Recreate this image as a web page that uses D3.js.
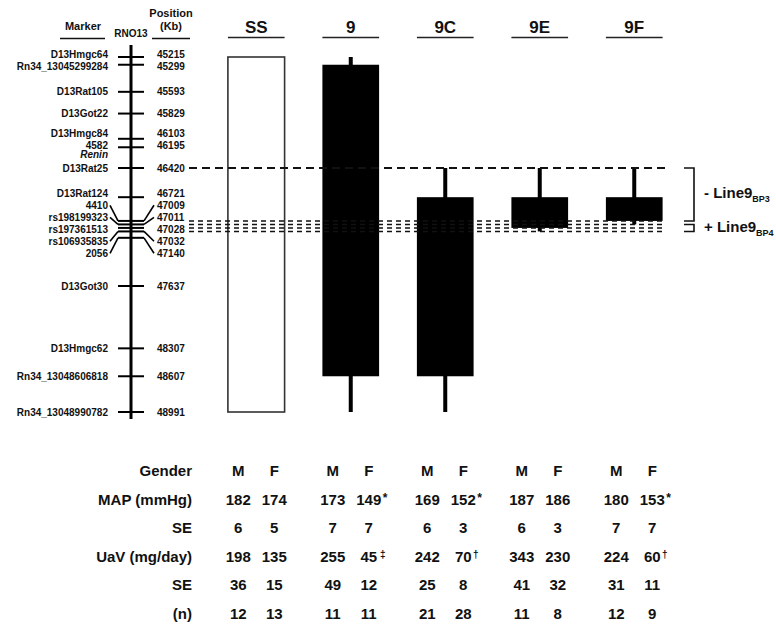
<!DOCTYPE html>
<html><head><meta charset="utf-8">
<script src="https://cdn.jsdelivr.net/npm/d3@7"></script>
<style>
body{margin:0;background:#fff}
svg{display:block}
text{font-family:"Liberation Sans",Arial,Helvetica,sans-serif;font-weight:bold;fill:#111}
</style>
</head><body>
<svg id="chart" width="776" height="625"></svg>
<script>
// ---------------- data ----------------
const markerNames = ["D13Hmgc64","Rn34_13045299284","D13Rat105","D13Got22","D13Hmgc84","4582","D13Rat25","D13Rat124","4410","rs198199323","rs197361513","rs106935835","2056","D13Got30","D13Hmgc62","Rn34_13048606818","Rn34_13048990782"];
const markerKb = [45215,45299,45593,45829,46103,46195,46420,46721,47009,47011,47028,47032,47140,47637,48307,48607,48991];
const geneNames = ["","","","","","Renin","","","","","","","","","","",""];

const strains = ["SS","9","9C","9E","9F"];
const whiskerTopKb = [null,45215,46420,46420,46420];
const barTopKb = [45215,45299,46721,46721,46721];
const barBottomKb = [48991,48607,48607,47028,47009];
const whiskerBottomKb = [null,48991,48991,47032,47011];
const barFilled = [false,true,true,true,true];

const boundaryKb = [46420,47009,47011,47028,47032];
const regionLabels = [{main:"- Line9", sub:"BP3", from:46420, to:47009},
                      {main:"+ Line9", sub:"BP4", from:47011, to:47032}];

const genders = ["M","F"];
const rowLabels = ["Gender","MAP (mmHg)","SE","UaV (mg/day)","SE","(n)"];
const mapValues = [[182,174],[173,149],[169,152],[187,186],[180,153]];
const mapMarks  = [["",""],["","*"],["","*"],["",""],["","*"]];
const mapSE     = [[6,5],[7,7],[6,3],[6,3],[7,7]];
const uavValues = [[198,135],[255,45],[242,70],[343,230],[224,60]];
const uavMarks  = [["",""],["","\u2021"],["","\u2020"],["",""],["","\u2020"]];
const uavSE     = [[36,15],[49,12],[25,8],[41,32],[31,11]];
const nValues   = [[12,13],[11,11],[21,28],[11,8],[12,9]];

// ---------------- layout ----------------
const svg = d3.select("#chart");
svg.append("rect").attr("width",776).attr("height",625).attr("fill","#fff");

const y = d3.scaleLinear().domain([45215,46420,47637,48991]).range([57,168,286,412]);
const x = d3.scaleBand().domain(strains).range([209,681.5]).paddingInner(0.4).paddingOuter(0.2);

// 1-D spreading with per-item minimum gap to the previous item (pool adjacent violators)
function spread(vals, gaps){
  const stack = [];
  const pos = g => { const n=g.items.length, mo=d3.mean(g.offs); return g.offs.map(o=>g.sum/n - mo + o); };
  vals.forEach((v,i)=>{
    stack.push({items:[i], offs:[0], sum:v});
    while(stack.length>1){
      const b = stack[stack.length-1], a = stack[stack.length-2];
      const pa = pos(a), pb = pos(b);
      const need = gaps[b.items[0]];
      if (pb[0] - pa[pa.length-1] < need){
        stack.pop(); stack.pop();
        const last = a.offs[a.offs.length-1];
        stack.push({items:a.items.concat(b.items), offs:a.offs.concat(b.offs.map(o=>last+need+o)), sum:a.sum+b.sum});
      } else break;
    }
  });
  const out = [];
  stack.forEach(g=>pos(g).forEach(p=>out.push(p)));
  return out;
}
const tickY = spread(markerKb.map(y), markerKb.map(()=>3.5));
// label slots: marker label plus optional gene sub-label
const slotVals = [], slotGaps = [], slotOwner = [];
markerNames.forEach((m,i)=>{
  slotVals.push(tickY[i]); slotGaps.push(12); slotOwner.push(i);
  if (geneNames[i]) { slotVals.push(tickY[i]); slotGaps.push(9.5); slotOwner.push(-1-i); }
});
const slotY = spread(slotVals, slotGaps);
const labelY = markerNames.map((m,i)=>slotY[slotOwner.indexOf(i)]);
const geneY = markerNames.map((m,i)=>{ const k = slotOwner.indexOf(-1-i); return k>=0 ? slotY[k] : null; });
const yOf = kb => { const i = markerKb.indexOf(kb); return i>=0 ? tickY[i] : y(kb); };

// ---------------- marker panel ----------------
const chromX = 131, tickL = 118, tickR = 144, labR = 108, labL = 157;
const panel = svg.append("g");
panel.append("text").attr("x",83).attr("y",30).attr("text-anchor","middle").attr("font-size",11).text("Marker");
panel.append("line").attr("x1",60).attr("x2",105).attr("y1",38.5).attr("y2",38.5).attr("stroke","#111").attr("stroke-width",1.5);
panel.append("text").attr("x",chromX).attr("y",37).attr("text-anchor","middle").attr("font-size",10).text("RNO13");
panel.append("text").attr("x",171).attr("y",17).attr("text-anchor","middle").attr("font-size",11).text("Position");
panel.append("text").attr("x",171).attr("y",30).attr("text-anchor","middle").attr("font-size",11).text("(Kb)");
panel.append("line").attr("x1",152).attr("x2",190).attr("y1",38.5).attr("y2",38.5).attr("stroke","#111").attr("stroke-width",1.5);

panel.append("line").attr("x1",chromX).attr("x2",chromX)
  .attr("y1",y(markerKb[0])-12).attr("y2",y(markerKb[markerKb.length-1])+7)
  .attr("stroke","#000").attr("stroke-width",3);

const mk = panel.selectAll("g.marker").data(markerNames).join("g").attr("class","marker");
mk.append("line").attr("x1",tickL).attr("x2",tickR)
  .attr("y1",(d,i)=>tickY[i]).attr("y2",(d,i)=>tickY[i])
  .attr("stroke","#000").attr("stroke-width",2);
mk.filter((d,i)=>Math.abs(labelY[i]-tickY[i])>6.5).each(function(d){
  const i = markerNames.indexOf(d), g = d3.select(this);
  g.append("line").attr("x1",labR+2).attr("y1",labelY[i]).attr("x2",tickL).attr("y2",tickY[i]).attr("stroke","#000").attr("stroke-width",1.6);
  g.append("line").attr("x1",tickR).attr("y1",tickY[i]).attr("x2",labL-3).attr("y2",labelY[i]).attr("stroke","#000").attr("stroke-width",1.6);
});
mk.append("text").attr("x",labR).attr("y",(d,i)=>labelY[i]).attr("dy","0.36em")
  .attr("text-anchor","end").attr("font-size",10).text(d=>d);
mk.append("text").attr("x",labL).attr("y",(d,i)=>labelY[i]).attr("dy","0.36em")
  .attr("font-size",10).text((d,i)=>markerKb[i]);
mk.filter((d,i)=>geneNames[i]!=="").append("text")
  .attr("x",labR).attr("y",d=>geneY[markerNames.indexOf(d)]).attr("dy","0.36em")
  .attr("text-anchor","end").attr("font-size",10).attr("font-style","italic")
  .text(d=>geneNames[markerNames.indexOf(d)]);

// ---------------- strain headers ----------------
svg.selectAll("text.hdr").data(strains).join("text").attr("class","hdr")
  .attr("x",d=>x(d)+x.bandwidth()/2).attr("y",33).attr("text-anchor","middle").attr("font-size",17).text(d=>d);
svg.selectAll("line.hdr").data(strains).join("line").attr("class","hdr")
  .attr("x1",d=>x(d)).attr("x2",d=>x(d)+x.bandwidth()).attr("y1",37.5).attr("y2",37.5)
  .attr("stroke","#222").attr("stroke-width",1.5);

// ---------------- bars ----------------
const wW = 4;
const bars = svg.append("g");
strains.forEach((s,i)=>{
  const cx = x(s)+x.bandwidth()/2;
  if (whiskerTopKb[i]!==null){
    bars.append("rect").attr("x",cx-wW/2).attr("width",wW)
      .attr("y",yOf(whiskerTopKb[i])).attr("height",yOf(whiskerBottomKb[i])-yOf(whiskerTopKb[i])).attr("fill","#000");
  }
  bars.append("rect").attr("x",x(s)).attr("width",x.bandwidth())
    .attr("y",yOf(barTopKb[i])).attr("height",yOf(barBottomKb[i])-yOf(barTopKb[i]))
    .attr("fill",barFilled[i]?"#000":"none")
    .attr("stroke",barFilled[i]?"none":"#333").attr("stroke-width",1.6);
});

// ---------------- boundary dashed lines ----------------
svg.selectAll("line.bnd").data(boundaryKb).join("line").attr("class","bnd")
  .attr("x1",189).attr("x2",665)
  .attr("y1",d=>yOf(d)).attr("y2",d=>yOf(d))
  .attr("stroke","#111")
  .attr("stroke-width",(d,i)=>i===0?2:1.6)
  .attr("stroke-dasharray",(d,i)=>i===0?"8,5":"5,4");

// ---------------- brackets ----------------
regionLabels.forEach(r=>{
  const t = yOf(r.from), b = yOf(r.to);
  svg.append("path").attr("d",`M684,${t}H694V${b}H684`).attr("fill","none").attr("stroke","#111").attr("stroke-width",1.6);
  const tx = svg.append("text").attr("x",704).attr("y",(t+b)/2+4).attr("font-size",15);
  tx.append("tspan").text(r.main);
  tx.append("tspan").attr("font-size",9).attr("dy",4).text(r.sub);
});

// ---------------- table ----------------
const rowY = d3.scalePoint().domain(d3.range(rowLabels.length)).range([476,619]);
const gOff = d3.scalePoint().domain(genders).range([-18,18]);
const tbl = svg.append("g").attr("font-size",15);
rowLabels.forEach((lab,r)=>{
  tbl.append("text").attr("x",192).attr("y",rowY(r)).attr("text-anchor","end").attr("font-size",15).text(lab);
});
const rowsData = [null,mapValues,mapSE,uavValues,uavSE,nValues];
const rowsMarks = [null,mapMarks,null,uavMarks,null,null];
strains.forEach((s,i)=>{
  const cx = x(s)+x.bandwidth()/2;
  genders.forEach((g,j)=>{
    const gx = cx + gOff(g);
    rowLabels.forEach((lab,r)=>{
      const val = r===0 ? g : rowsData[r][i][j];
      const t = tbl.append("text").attr("x",gx).attr("y",rowY(r)).attr("text-anchor","middle").attr("font-size",15).text(val);
      const mark = rowsMarks[r] ? rowsMarks[r][i][j] : "";
      if (mark){
        const w = t.node().getComputedTextLength();
        const isStar = mark==="*";
        tbl.append("text").attr("x",gx+w/2+(mark==="\u2021"?3:1.5))
          .attr("y",rowY(r)-(isStar?3:4)).attr("font-size",isStar?12:10).text(mark);
      }
    });
  });
});
</script>
</body></html>
